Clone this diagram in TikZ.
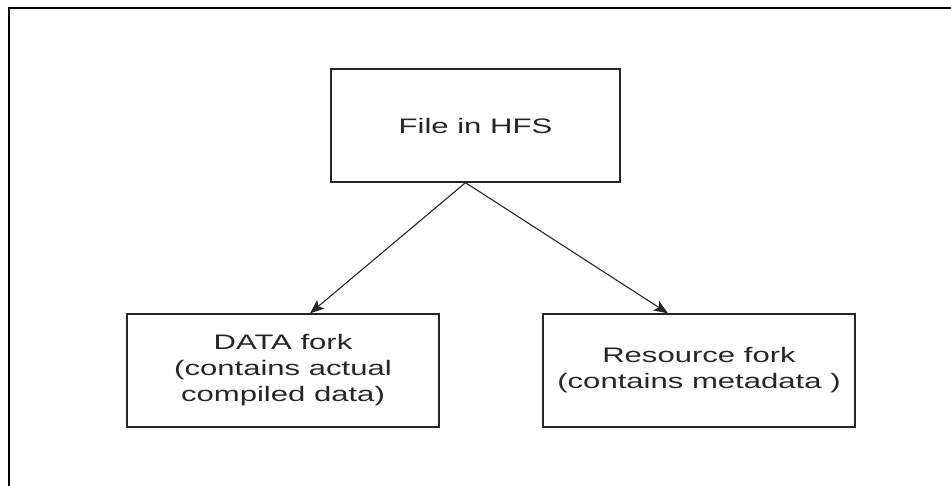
\documentclass[tikz,border=0pt]{standalone}
\usepackage{fontspec}
\setmainfont[FakeStretch=1.48]{Liberation Sans}
\usetikzlibrary{arrows.meta}
\begin{document}
\begin{tikzpicture}[x=1pt,y=-1pt,
  box/.style={draw=black!85,line width=1.3pt,rectangle,inner sep=0pt,
    align=center,text=black!85,font=\fontsize{21}{26}\selectfont},
  link/.style={draw=black!85,line width=1.1pt,
    -{Stealth[length=14pt,width=11pt,inset=3pt]}}]
  \useasboundingbox (0,0) rectangle (951,486);
  % outer frame (top and left edges)
  \coordinate (fTL) at (9,8);
  \coordinate (fTR) at (951,8);
  \coordinate (fBL) at (9,486);
  \draw[line width=1.5pt] (fBL) -- (fTL) -- (fTR);
  % boxes
  \node[box,minimum width=289pt,minimum height=113pt] (file) at (475.5,125.5) {File in HFS};
  \node[box,minimum width=312pt,minimum height=113pt] (data) at (283,370.5)
    {DATA fork\\(contains actual\\compiled data)};
  \node[box,minimum width=312pt,minimum height=113pt] (res) at (699,370.5)
    {Resource fork\\(contains metadata )};
  % connectors
  \coordinate (src) at ([xshift=-10pt]file.south);
  \draw[link] (src) -- ([xshift=27pt]data.north);
  \draw[link] (src) -- ([xshift=-31pt]res.north);
\end{tikzpicture}
\end{document}
